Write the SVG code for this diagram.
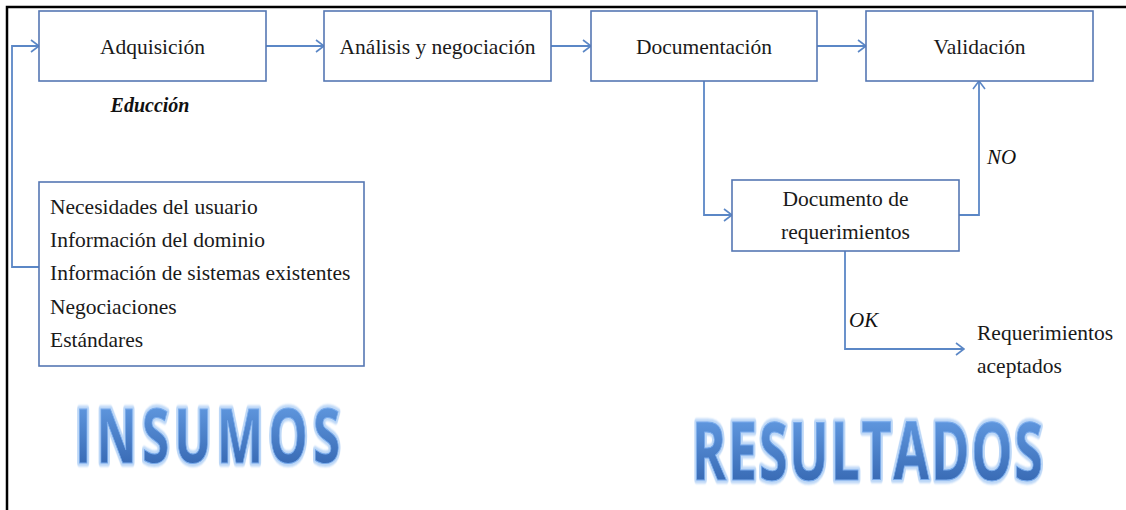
<svg xmlns="http://www.w3.org/2000/svg" width="1126" height="510" viewBox="0 0 1126 510">
  <style>
    .box { fill: #ffffff; stroke: #5577b3; stroke-width: 1.6; }
    .lbl { font-family: "Liberation Serif", "Times New Roman", serif; font-size: 21.5px; fill: #1a1a1a; }
    .ital { font-family: "Liberation Serif", "Times New Roman", serif; font-style: italic; font-size: 21px; fill: #111111; }
    .conn { fill: none; stroke: #5b87c6; stroke-width: 1.8; }
    .big { font-family: "Open Sans", "Liberation Sans", sans-serif; font-weight: bold; }
    .halo { fill: none; stroke: #bcd7f7; stroke-width: 7; stroke-linejoin: round; filter: url(#soft); }
    .face { fill: url(#blueFill); stroke: #78aaeb; stroke-width: 1; }
  </style>
  <defs>
    <marker id="chev" viewBox="0 0 10 14" refX="9" refY="7" markerWidth="10" markerHeight="14" markerUnits="userSpaceOnUse" orient="auto">
      <path d="M1,1 L9,7 L1,13" fill="none" stroke="#5b87c6" stroke-width="1.6"/>
    </marker>
    <linearGradient id="blueFill" x1="0" y1="0" x2="0" y2="1">
      <stop offset="0" stop-color="#6fa9ef"/>
      <stop offset="1" stop-color="#2b5ba6"/>
    </linearGradient>
    <filter id="soft" x="-10%" y="-20%" width="120%" height="140%">
      <feGaussianBlur stdDeviation="1.2"/>
    </filter>
  </defs>

  <!-- page frame (top and left edges) -->
  <path d="M7,510 V7 H1126" fill="none" stroke="#000000" stroke-width="2.5"/>

  <!-- connectors -->
  <g id="connectors">
    <path class="conn" d="M39,267 H12 V46 H39" marker-end="url(#chev)"/>
    <path class="conn" d="M266,46 H324" marker-end="url(#chev)"/>
    <path class="conn" d="M551,46 H591" marker-end="url(#chev)"/>
    <path class="conn" d="M817,46 H866" marker-end="url(#chev)"/>
    <path class="conn" d="M704,81 V215 H732" marker-end="url(#chev)"/>
    <path class="conn" d="M959,215 H979 V81" marker-end="url(#chev)"/>
    <path class="conn" d="M845,251 V349 H964" marker-end="url(#chev)"/>
    <text class="ital" x="987" y="164">NO</text>
    <text class="ital" x="849" y="327">OK</text>
  </g>

  <g id="adquisicion">
    <rect class="box" x="39" y="11" width="227" height="70"/>
    <text class="lbl" x="152.5" y="54" text-anchor="middle">Adquisición</text>
    <text x="150" y="112" text-anchor="middle" font-family="Liberation Serif, serif" font-style="italic" font-weight="bold" font-size="20" fill="#111111">Educción</text>
  </g>

  <g id="analisis">
    <rect class="box" x="324" y="11" width="227" height="70"/>
    <text class="lbl" x="437.5" y="54" text-anchor="middle">Análisis y negociación</text>
  </g>

  <g id="documentacion">
    <rect class="box" x="591" y="11" width="226" height="70"/>
    <text class="lbl" x="704" y="54" text-anchor="middle">Documentación</text>
  </g>

  <g id="validacion">
    <rect class="box" x="866" y="11" width="227" height="70"/>
    <text class="lbl" x="979.5" y="54" text-anchor="middle">Validación</text>
  </g>

  <g id="documento">
    <rect class="box" x="732" y="180" width="227" height="71"/>
    <text class="lbl" x="845.5" y="206" text-anchor="middle">Documento de</text>
    <text class="lbl" x="845.5" y="239" text-anchor="middle">requerimientos</text>
  </g>

  <g id="insumos-lista">
    <rect class="box" x="39" y="182" width="325" height="184"/>
    <text class="lbl" x="50" y="214">Necesidades del usuario</text>
    <text class="lbl" x="50" y="247">Información del dominio</text>
    <text class="lbl" x="50" y="280">Información de sistemas existentes</text>
    <text class="lbl" x="50" y="314">Negociaciones</text>
    <text class="lbl" x="50" y="347">Estándares</text>
  </g>

  <g id="aceptados">
    <text class="lbl" x="977" y="340">Requerimientos</text>
    <text class="lbl" x="977" y="373">aceptados</text>
  </g>

  <!-- section titles: narrow, widely spaced capitals -->
  <g id="titulo-insumos" class="big" font-size="76" letter-spacing="8" transform="translate(75,463) scale(0.65,1)">
    <text class="halo" x="0" y="0">INSUMOS</text>
    <text class="face" x="0" y="0">INSUMOS</text>
  </g>
  <g id="titulo-resultados" class="big" font-size="80" letter-spacing="2.7" transform="translate(692,480) scale(0.65,1)">
    <text class="halo" x="0" y="0">RESULTADOS</text>
    <text class="face" x="0" y="0">RESULTADOS</text>
  </g>
</svg>
